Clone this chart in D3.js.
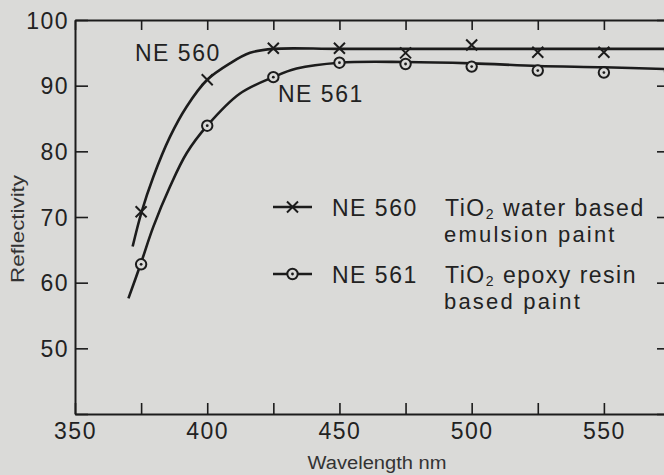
<!DOCTYPE html>
<html><head><meta charset="utf-8">
<script src="https://cdn.jsdelivr.net/npm/d3@7"></script>
<style>
html,body{margin:0;padding:0;background:#dadad8;}
svg{display:block;}
.t{font-family:"Liberation Sans",Arial,sans-serif;fill:#222;letter-spacing:1.5px;}
</style></head>
<body>
<script>
// measured points (markers)
const wavelengths = [375, 400, 425, 450, 475, 500, 525, 550, 575];
const ne560 = [70.8, 90.9, 95.7, 95.7, 95.0, 96.2, 95.1, 95.1, 95.3];
const ne561 = [62.8, 83.9, 91.3, 93.5, 93.3, 92.9, 92.3, 92.0, 92.2];
// smooth fitted curves as drawn
const fit560Wl = [371.8, 375.2, 379.6, 385.9, 392.2, 400, 408.6, 416.2, 425, 450, 500, 550, 575];
const fit560 = [65.5, 70.8, 76.1, 82.2, 86.8, 90.9, 93.4, 95.0, 95.6, 95.6, 95.6, 95.6, 95.6];
const fit561Wl = [370.2, 374.8, 379.6, 385.9, 392.2, 400, 412.4, 425, 433.8, 450, 475, 500, 525, 550, 575];
const fit561 = [57.6, 62.8, 68.5, 74.6, 79.7, 83.9, 88.8, 91.3, 92.6, 93.5, 93.6, 93.4, 93.0, 92.8, 92.5];
// ticks
const xTicks = [350, 375, 400, 425, 450, 475, 500, 525, 550, 575];
const xTickLabels = [350, 400, 450, 500, 550];
const yTicks = [40, 50, 60, 70, 80, 90, 100];
const yTickLabels = [50, 60, 70, 80, 90, 100];
const seriesNames = ["NE 560", "NE 561"];
const legendDesc = [["water based", "emulsion paint"], ["epoxy resin", "based paint"]];
const xTitle = "Wavelength nm";
const yTitle = "Reflectivity";

const W = 664, H = 475;
const svg = d3.select("body").append("svg").attr("width", W).attr("height", H);
svg.append("rect").attr("width", W).attr("height", H).attr("fill", "#dadad8");

const x = d3.scaleLinear().domain([350, 575]).range([75, 670]);
const y = d3.scaleLinear().domain([40, 100]).range([414, 20]);
const ink = "#1c1c1c";

function styleAxis(g) {
  g.selectAll("path.domain").attr("stroke", ink).attr("stroke-width", 2);
  g.selectAll(".tick line").attr("stroke", ink).attr("stroke-width", 1.6);
}

// bottom axis
const gb = svg.append("g").attr("transform", `translate(0,${y(40)})`)
  .call(d3.axisBottom(x).tickValues(xTicks).tickSizeInner(-11).tickSizeOuter(0).tickPadding(9)
    .tickFormat(d => xTickLabels.includes(d) ? d : ""));
styleAxis(gb);
gb.selectAll(".tick text").attr("class", "t").attr("font-size", 23).attr("fill", ink);
// top axis
const gt = svg.append("g").attr("transform", `translate(0,${y(100)})`)
  .call(d3.axisTop(x).tickValues(xTicks).tickSizeInner(-10).tickSizeOuter(0).tickFormat(""));
styleAxis(gt);
// left axis
const gl = svg.append("g").attr("transform", `translate(${x(350)},0)`)
  .call(d3.axisLeft(y).tickValues(yTicks).tickSizeInner(-13).tickSizeOuter(0).tickPadding(6)
    .tickFormat(d => yTickLabels.includes(d) ? d : ""));
styleAxis(gl);
gl.selectAll(".tick text").attr("class", "t").attr("font-size", 23).attr("fill", ink).attr("dy", "0.36em");
// right axis
const gr = svg.append("g").attr("transform", `translate(${x(575)},0)`)
  .call(d3.axisRight(y).tickValues(yTicks).tickSizeInner(-13).tickSizeOuter(0).tickFormat(""));
styleAxis(gr);
svg.selectAll(".tick text").style("font-family", '"Liberation Sans",Arial,sans-serif');

// axis titles
svg.append("text").attr("x", 377).attr("y", 469).attr("text-anchor", "middle")
  .attr("font-size", 18).attr("textLength", 139).attr("lengthAdjust", "spacingAndGlyphs")
  .style("font-family", '"Liberation Sans Narrow","Liberation Sans",Arial,sans-serif').attr("fill", "#333")
  .text(xTitle);
svg.append("text").attr("transform", "translate(24,229) rotate(-90)").attr("text-anchor", "middle")
  .attr("font-size", 18).attr("textLength", 108).attr("lengthAdjust", "spacingAndGlyphs")
  .style("font-family", '"Liberation Sans Narrow","Liberation Sans",Arial,sans-serif').attr("fill", "#333")
  .text(yTitle);

// curves
const line = d3.line().x(d => x(d[0])).y(d => y(d[1])).curve(d3.curveCatmullRom.alpha(0.5));
svg.append("path").datum(fit560Wl.map((w, i) => [w, fit560[i]])).attr("d", line)
  .attr("fill", "none").attr("stroke", ink).attr("stroke-width", 2.6);
svg.append("path").datum(fit561Wl.map((w, i) => [w, fit561[i]])).attr("d", line)
  .attr("fill", "none").attr("stroke", ink).attr("stroke-width", 2.6);

// markers
function cross(g, cx, cy) {
  const s = 5.5;
  g.append("path").attr("d", `M${cx - s},${cy - s}L${cx + s},${cy + s}M${cx - s},${cy + s}L${cx + s},${cy - s}`)
    .attr("stroke", ink).attr("stroke-width", 2).attr("fill", "none");
}
function ring(g, cx, cy) {
  g.append("circle").attr("cx", cx).attr("cy", cy).attr("r", 5.2)
    .attr("fill", "#dadad8").attr("stroke", ink).attr("stroke-width", 2);
  g.append("circle").attr("cx", cx).attr("cy", cy).attr("r", 1.4).attr("fill", ink);
}
const gm = svg.append("g");
wavelengths.forEach((w, i) => cross(gm, x(w), y(ne560[i])));
wavelengths.forEach((w, i) => ring(gm, x(w), y(ne561[i])));

// annotations
svg.append("text").attr("class", "t").attr("x", 135).attr("y", 61).attr("font-size", 23).text(seriesNames[0]);
svg.append("text").attr("class", "t").attr("x", 278).attr("y", 102).attr("font-size", 23).text(seriesNames[1]);

// legend
const legY = [207, 274];
const legBase = [216, 283];
[0, 1].forEach(i => {
  svg.append("line").attr("x1", 273).attr("x2", 312).attr("y1", legY[i]).attr("y2", legY[i])
    .attr("stroke", ink).attr("stroke-width", 2.4);
  if (i === 0) cross(svg, 292.5, legY[i]); else ring(svg, 292.5, legY[i]);
  svg.append("text").attr("class", "t").attr("x", 332).attr("y", legBase[i]).attr("font-size", 23).text(seriesNames[i]);
  const t = svg.append("text").attr("class", "t").attr("x", 445).attr("y", legBase[i]).attr("font-size", 23);
  t.append("tspan").text("TiO");
  t.append("tspan").attr("font-size", 14).attr("dy", 3).text("2");
  t.append("tspan").attr("dy", -3).text(" " + legendDesc[i][0]);
  svg.append("text").attr("class", "t").attr("x", 444).attr("y", legBase[i] + 26).attr("font-size", 22)
    .style("letter-spacing", "2.2px").text(legendDesc[i][1]);
});
</script>
</body></html>
